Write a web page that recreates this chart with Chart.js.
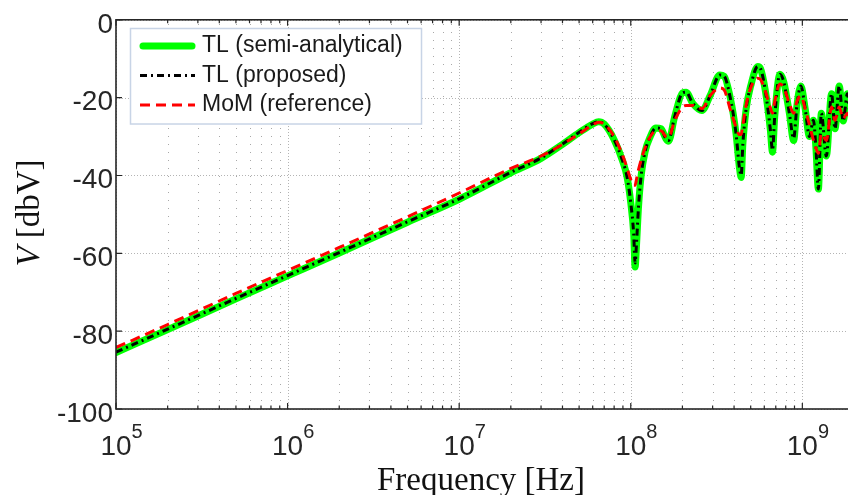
<!DOCTYPE html>
<html>
<head>
<meta charset="utf-8">
<script src="https://cdn.jsdelivr.net/npm/chart.js@4.4.1/dist/chart.umd.min.js"></script>
<style>
  html, body { margin: 0; padding: 0; background: #fff; overflow: hidden; width: 848px; height: 495px; }
  canvas { display: block; }
</style>
</head>
<body>
<canvas id="chart4" width="870" height="495"></canvas>
<script>
// frequencies [Hz]
const freqHz = [
  1e5, 2e5, 5e5, 1e6, 2e6, 5e6, 1e7, 2e7, 3e7, 4e7,
  5e7, 6e7, 6.5e7, 7e7, 8e7, 9e7, 9.5e7, 1e8, 1.04e8, 1.06e8,
  1.08e8, 1.11e8, 1.15e8, 1.21e8, 1.3e8, 1.4e8, 1.5e8, 1.6e8, 1.66e8, 1.8e8,
  2e8, 2.1e8, 2.3e8, 2.6e8, 2.9e8, 3.3e8, 3.5e8, 3.8e8, 4.1e8, 4.3e8,
  4.4e8, 4.5e8, 4.7e8, 5e8, 5.5e8, 5.7e8, 6.1e8, 6.5e8, 6.7e8, 6.9e8,
  7.4e8, 7.8e8, 8.4e8, 8.9e8, 9.3e8, 9.8e8, 1.04e9, 1.1e9, 1.16e9, 1.2e9,
  1.24e9, 1.29e9, 1.38e9, 1.48e9, 1.55e9, 1.64e9, 1.73e9, 1.83e9, 1.9e9, 2e9
];

// V [dbV]
const tlSemiAnalytical = [
  -85.5, -79.6, -71.7, -65.8, -59.9, -52.0, -46.1, -39.3, -35.6, -32.0,
  -29.0, -26.8, -26.2, -26.8, -30.8, -36.5, -40.2, -47.0, -55.0, -63.5,
  -58.0, -48.0, -40.0, -34.0, -30.0, -27.8, -28.0, -30.5, -31.2, -25.0,
  -18.8, -18.6, -21.5, -23.3, -19.5, -14.2, -14.5, -20.0, -29.0, -38.0,
  -40.5, -32.0, -23.0, -17.0, -12.0, -12.5, -18.5, -28.0, -34.0, -25.0,
  -14.0, -16.0, -24.0, -31.0, -22.0, -17.0, -23.0, -30.0, -25.8, -33.0,
  -43.5, -24.0, -35.0, -19.0, -28.0, -17.0, -26.0, -19.0, -24.0, -20.0
];

const tlProposed = [
  -85.4, -79.5, -71.6, -65.7, -59.8, -51.9, -46.0, -39.2, -35.5, -31.9,
  -28.9, -26.7, -26.2, -26.8, -30.8, -36.5, -40.2, -47.0, -55.0, -62.5,
  -57.5, -48.0, -40.0, -34.0, -30.0, -27.8, -28.0, -30.5, -31.0, -25.0,
  -18.8, -18.6, -21.5, -23.3, -19.5, -14.2, -14.5, -20.0, -29.0, -38.0,
  -40.0, -32.0, -23.0, -17.0, -12.0, -12.5, -18.5, -28.0, -33.5, -25.0,
  -14.0, -16.0, -24.0, -30.5, -22.0, -17.0, -23.0, -30.0, -25.8, -33.0,
  -43.5, -24.0, -35.0, -19.0, -28.0, -17.0, -26.0, -19.0, -24.0, -20.0
];

const momReference = [
  -84.2, -78.3, -70.3, -64.4, -58.5, -50.6, -44.5, -38.2, -35.0, -32.0,
  -29.3, -27.0, -26.3, -26.8, -30.0, -35.0, -38.0, -41.0, -42.5, -42.5,
  -41.0, -38.5, -36.0, -33.0, -30.0, -28.5, -28.5, -30.0, -30.2, -26.0,
  -22.4, -22.0, -22.0, -22.8, -19.5, -17.5, -18.0, -23.0, -27.5, -29.5,
  -29.5, -27.0, -22.0, -17.5, -15.0, -15.3, -18.5, -22.5, -24.0, -21.0,
  -16.5, -17.5, -21.5, -24.0, -21.0, -19.5, -23.0, -27.0, -30.9, -33.0,
  -34.3, -29.2, -31.0, -22.4, -25.8, -22.4, -25.4, -24.0, -25.0, -24.0
];

const yTicks = [0, -20, -40, -60, -80, -100];
const xDecades = [5, 6, 7, 8, 9];
const legendLabels = ['TL (semi-analytical)', 'TL (proposed)', 'MoM (reference)'];

const xMin = 1e5, xMax = 2e9;
const axisColor = '#262626';
const sans = '"Liberation Sans", Arial, sans-serif';
const serif = '"Liberation Serif", "Times New Roman", serif';

// minor tick values (2..9 x 10^n)
const minorVals = [];
xDecades.forEach(d => {
  for (let k = 2; k <= 9; k++) {
    const v = k * Math.pow(10, d);
    if (v < xMax) minorVals.push(v);
  }
});

const series = [
  {label: legendLabels[0], data: tlSemiAnalytical, color: '#00ff00', width: 7, dash: [], cap: 'round', order: 2},
  {label: legendLabels[1], data: tlProposed, color: '#000000', width: 3, dash: [7, 4, 2, 4], cap: 'butt', order: 1},
  {label: legendLabels[2], data: momReference, color: '#ff0000', width: 3, dash: [10, 6], cap: 'butt', order: 0}
];

const framePlugin = {
  id: 'frame',
  beforeDatasetsDraw(chart) {
    const {ctx, chartArea: a, scales: {x, y}} = chart;
    ctx.save();
    ctx.lineWidth = 1;
    // minor vertical grid
    ctx.strokeStyle = '#a8a8a8';
    ctx.setLineDash([1, 7]);
    minorVals.forEach(v => {
      const px = Math.round(x.getPixelForValue(v)) + 0.5;
      ctx.beginPath(); ctx.moveTo(px, a.bottom); ctx.lineTo(px, a.top); ctx.stroke();
    });
    // major grid
    ctx.strokeStyle = '#b4b4b4';
    ctx.setLineDash([1, 2]);
    xDecades.forEach(d => {
      const px = Math.round(x.getPixelForValue(Math.pow(10, d))) + 0.5;
      ctx.beginPath(); ctx.moveTo(px, a.bottom); ctx.lineTo(px, a.top); ctx.stroke();
    });
    yTicks.forEach(v => {
      const py = Math.round(y.getPixelForValue(v)) + 0.5;
      ctx.beginPath(); ctx.moveTo(a.left, py); ctx.lineTo(a.right, py); ctx.stroke();
    });
    ctx.restore();
  },
  afterDatasetsDraw(chart) {
    const {ctx, chartArea: a, scales: {x, y}} = chart;
    ctx.save();
    // axes box
    ctx.strokeStyle = axisColor;
    ctx.lineWidth = 1.6;
    ctx.strokeRect(a.left, a.top, a.right - a.left, a.bottom - a.top);
    // ticks
    ctx.lineWidth = 1.2;
    ctx.beginPath();
    yTicks.forEach(v => {
      const py = y.getPixelForValue(v);
      ctx.moveTo(a.left, py); ctx.lineTo(a.left + 6, py);
      ctx.moveTo(a.right, py); ctx.lineTo(a.right - 6, py);
    });
    xDecades.forEach(d => {
      const px = x.getPixelForValue(Math.pow(10, d));
      ctx.moveTo(px, a.bottom); ctx.lineTo(px, a.bottom - 6);
      ctx.moveTo(px, a.top); ctx.lineTo(px, a.top + 6);
    });
    minorVals.forEach(v => {
      const px = x.getPixelForValue(v);
      ctx.moveTo(px, a.bottom); ctx.lineTo(px, a.bottom - 3.5);
      ctx.moveTo(px, a.top); ctx.lineTo(px, a.top + 3.5);
    });
    ctx.stroke();

    // x tick labels 10^n
    ctx.fillStyle = axisColor;
    ctx.textBaseline = 'alphabetic';
    xDecades.forEach(d => {
      const px = x.getPixelForValue(Math.pow(10, d));
      ctx.font = '28px ' + sans;
      const bw = ctx.measureText('10').width;
      ctx.font = '20px ' + sans;
      const ew = ctx.measureText(String(d)).width;
      let left = px - bw / 2;
      if (left + bw + ew > 830) left = 830 - bw - ew;
      ctx.font = '28px ' + sans;
      ctx.textAlign = 'left';
      ctx.fillText('10', left, 455);
      ctx.font = '20px ' + sans;
      ctx.fillText(String(d), left + bw, 438);
    });

    // axis titles
    ctx.fillStyle = '#111';
    ctx.font = '33px ' + serif;
    ctx.textAlign = 'center';
    ctx.fillText('Frequency [Hz]', 481, 490);

    ctx.save();
    ctx.translate(39, 213);
    ctx.rotate(-Math.PI / 2);
    ctx.font = 'italic 33px ' + serif;
    const vw = ctx.measureText('V').width;
    ctx.font = '33px ' + serif;
    const rest = ' [dbV]';
    const rw = ctx.measureText(rest).width;
    const start = -(vw + rw) / 2;
    ctx.textAlign = 'left';
    ctx.font = 'italic 33px ' + serif;
    ctx.fillText('V', start, 0);
    ctx.font = '33px ' + serif;
    ctx.fillText(rest, start + vw, 0);
    ctx.restore();

    // legend
    const lx = 130.5, ly = 28.5, lw = 291, lh = 95.5;
    ctx.fillStyle = '#fff';
    ctx.fillRect(lx, ly, lw, lh);
    ctx.strokeStyle = '#c8d4e6';
    ctx.lineWidth = 1.5;
    ctx.strokeRect(lx, ly, lw, lh);
    const rows = [46, 75.5, 105];
    series.forEach((s, i) => {
      ctx.strokeStyle = s.color;
      ctx.lineWidth = s.width;
      ctx.lineCap = s.cap;
      ctx.setLineDash(s.dash);
      ctx.beginPath();
      ctx.moveTo(s.cap === 'round' ? 143 : 140, rows[i]);
      ctx.lineTo(s.cap === 'round' ? 192 : 195, rows[i]);
      ctx.stroke();
      ctx.setLineDash([]);
      ctx.fillStyle = '#1a1a1a';
      ctx.font = '23px ' + sans;
      ctx.textAlign = 'left';
      ctx.fillText(s.label, 202, rows[i] + 6);
    });
    ctx.restore();
  }
};

const ctx4 = document.getElementById('chart4').getContext('2d');
const myLineChart = new Chart(ctx4, {
  type: 'line',
  data: {
    datasets: series.map(s => ({
      label: s.label,
      data: freqHz.map((f, i) => ({x: f, y: s.data[i]})),
      borderColor: s.color,
      backgroundColor: s.color,
      borderWidth: s.width,
      borderDash: s.dash,
      borderCapStyle: s.cap,
      borderJoinStyle: 'round',
      cubicInterpolationMode: 'monotone',
      pointRadius: 0,
      fill: false,
      order: s.order
    }))
  },
  options: {
    responsive: false,
    animation: false,
    layout: {padding: {top: 15, right: 16, bottom: 0, left: 0}},
    plugins: {legend: {display: false}, tooltip: {enabled: false}},
    scales: {
      x: {
        type: 'logarithmic',
        min: xMin,
        max: xMax,
        grid: {display: false, drawTicks: false},
        border: {display: false},
        ticks: {display: false},
        afterFit: function (scale) { scale.height = 86; }
      },
      y: {
        type: 'linear',
        min: -100,
        max: 0,
        grid: {display: false, drawTicks: false},
        border: {display: false},
        ticks: {
          stepSize: 20,
          padding: 3,
          labelOffset: 5,
          color: axisColor,
          font: {family: sans, size: 28},
          callback: function (value) {
            return value;
          }
        },
        afterFit: function (scale) { scale.width = 116; }
      }
    }
  },
  plugins: [framePlugin]
});
</script>
</body>
</html>
